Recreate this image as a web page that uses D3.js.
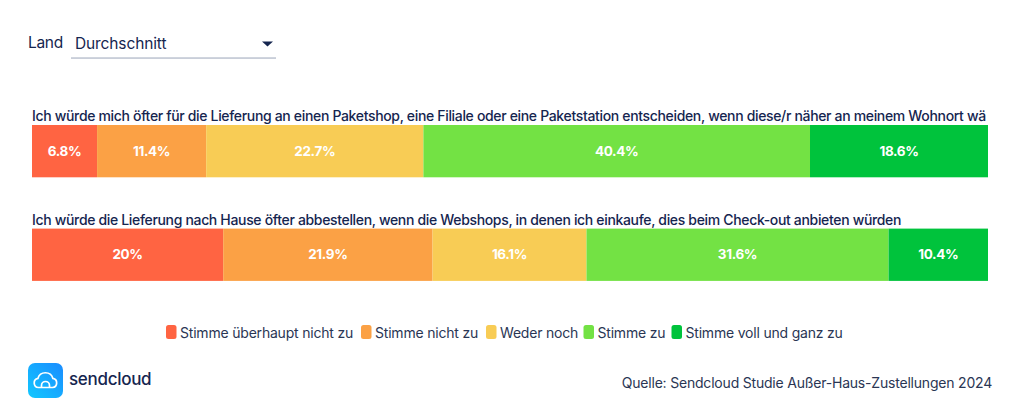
<!DOCTYPE html>
<html lang="de"><head><meta charset="utf-8">
<script src="https://cdn.jsdelivr.net/npm/d3@7"></script>
<style>html,body{margin:0;padding:0;background:#fff}svg{display:block}text{font-family:Inter,"Noto Sans",sans-serif}</style>
</head><body><div id="c"></div>
<script>
const categories=["Stimme überhaupt nicht zu","Stimme nicht zu","Weder noch","Stimme zu","Stimme voll und ganz zu"];
const colors=["#ff6442","#fba145","#f8cc55","#73e244","#00c33c"];
const questions=["Ich würde mich öfter für die Lieferung an einen Paketshop, eine Filiale oder eine Paketstation entscheiden, wenn diese/r näher an meinem Wohnort wä","Ich würde die Lieferung nach Hause öfter abbestellen, wenn die Webshops, in denen ich einkaufe, dies beim Check-out anbieten würden"];
const values1=[6.8,11.4,22.7,40.4,18.6];
const values2=[20,21.9,16.1,31.6,10.4];
const valueLabels1=["6.8%","11.4%","22.7%","40.4%","18.6%"];
const valueLabels2=["20%","21.9%","16.1%","31.6%","10.4%"];
const rows=[{q:questions[0],v:values1,l:valueLabels1},{q:questions[1],v:values2,l:valueLabels2}];
const W=1020,H=416,navy="#15254f",slate="#2a3654";
const svg=d3.select("#c").append("svg").attr("width",W).attr("height",H);
const defs=svg.append("defs");
const g=defs.append("linearGradient").attr("id","logo").attr("x1",0).attr("y1",1).attr("x2",1).attr("y2",0);
g.append("stop").attr("offset",0).attr("stop-color","#12c8ff");
g.append("stop").attr("offset",1).attr("stop-color","#1a8cff");

const x=d3.scaleLinear().domain([0,1]).range([32,988]);
const y=d3.scalePoint().domain([0,1]).range([125,228.6]);
const bh=52.3;

// Dropdown
svg.append("text").attr("x",28).attr("y",47.5).attr("font-size",15.5).attr("fill",navy).attr("letter-spacing",-0.3).text("Land");
svg.append("text").attr("x",75).attr("y",49).attr("font-size",15.5).attr("fill",navy).attr("letter-spacing",-0.12).text("Durchschnitt");
svg.append("path").attr("d","M262 41.5h11l-5.5 5z").attr("fill",navy);
svg.append("rect").attr("x",71).attr("y",57.3).attr("width",205).attr("height",1.5).attr("fill","#bcc3d0");

// Rows
const row=svg.selectAll("g.row").data(rows).join("g").attr("class","row");
row.append("text")
  .attr("x",32).attr("y",(d,i)=>y(i)-4).attr("font-size",14).attr("font-weight",500).attr("fill",navy).attr("letter-spacing",-0.335).text(d=>d.q);
row.each(function(d,i){
  const sel=d3.select(this);
  const total=d3.sum(d.v);
  let c=0;
  const segs=d.v.map((v,j)=>{const s={a:c/total,b:(c+v)/total,j,l:d.l[j]};c+=v;return s;});
  sel.selectAll("rect.seg").data(segs).join("rect").attr("class","seg")
    .attr("x",s=>x(s.a)).attr("width",s=>x(s.b)-x(s.a)).attr("y",y(i)).attr("height",bh).attr("fill",s=>colors[s.j]);
  sel.selectAll("text.val").data(segs).join("text").attr("class","val")
    .attr("x",s=>(x(s.a)+x(s.b))/2).attr("y",y(i)+bh/2+4.5).attr("text-anchor","middle")
    .attr("font-size",13.5).attr("font-weight",700).attr("fill","#fff").attr("letter-spacing",-0.35).text(s=>s.l);
});

// Legend
const legendX=[166,361,486,583.5,671.5];
const leg=svg.selectAll("g.leg").data(categories).join("g").attr("class","leg").attr("transform",(d,i)=>`translate(${legendX[i]},325)`);
leg.append("rect").attr("width",10.5).attr("height",14).attr("rx",2.5).attr("fill",(d,i)=>colors[i]);
leg.append("text").attr("x",14).attr("y",12.5).attr("font-size",14).attr("fill",slate).attr("letter-spacing",-0.2).text(d=>d);

// Logo
const logo=svg.append("g").attr("transform","translate(28,363)");
logo.append("rect").attr("width",35).attr("height",35).attr("rx",7).attr("fill","url(#logo)");
logo.append("path").attr("d","M10.5 24.5a4.6 4.6 0 0 1-.6-9.1 7.8 7.8 0 0 1 15 0 4.6 4.6 0 0 1-.4 9.1z").attr("fill","none").attr("stroke","#fff").attr("stroke-width",1.7);
logo.append("path").attr("d","M13.5 24.5v-2a4 4 0 0 1 8 0v2").attr("fill","none").attr("stroke","#fff").attr("stroke-width",1.7);
svg.append("text").attr("x",69).attr("y",385).attr("font-size",17).attr("font-weight",500).attr("fill",navy).attr("letter-spacing",-0.3).text("sendcloud");

// Source
svg.append("text").attr("x",992).attr("y",388).attr("text-anchor","end").attr("font-size",14).attr("fill",slate).attr("letter-spacing",-0.2).text("Quelle: Sendcloud Studie Außer-Haus-Zustellungen 2024");
</script></body></html>
